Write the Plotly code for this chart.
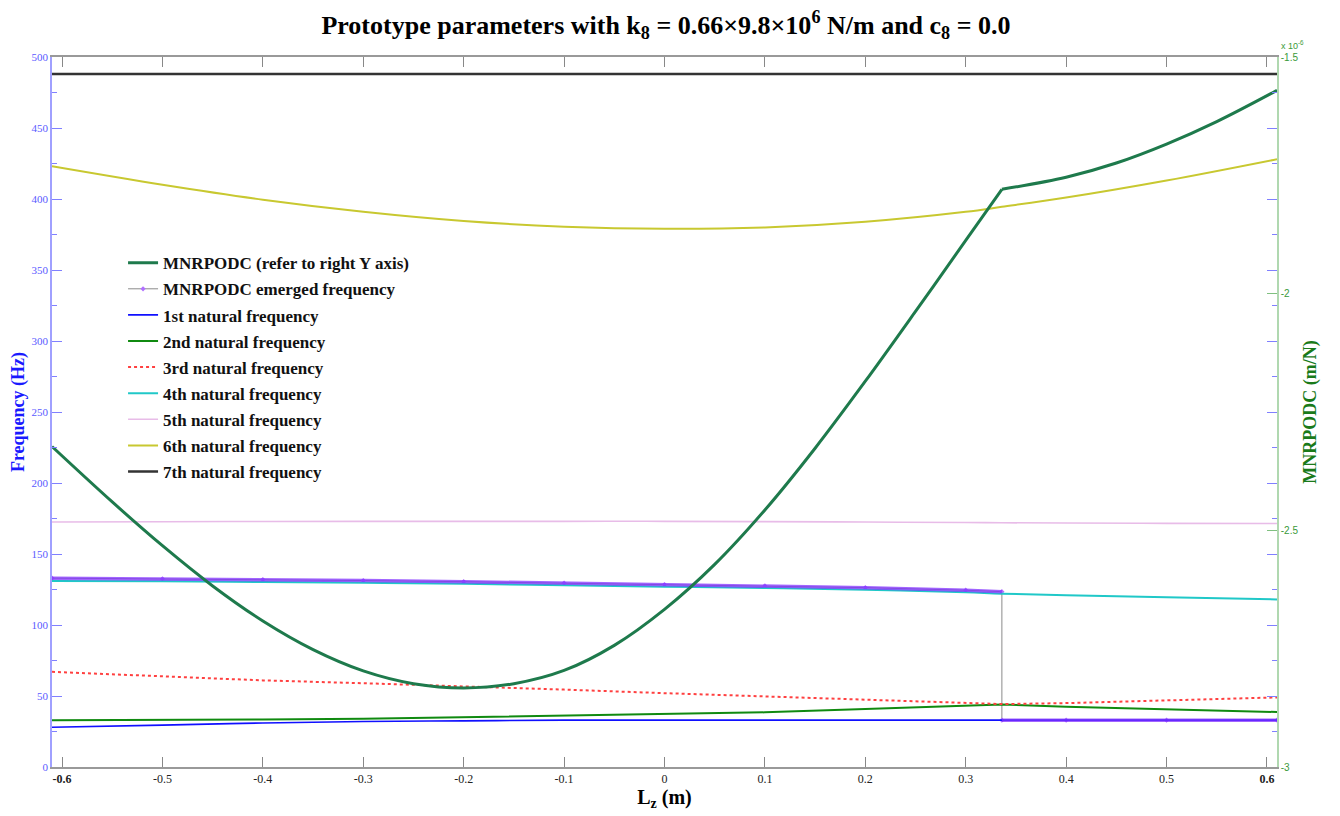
import plotly.graph_objects as go

# ---------------- data ----------------
lz_curve = [-0.61, -0.55, -0.50, -0.45, -0.40, -0.35, -0.30, -0.25, -0.20, -0.15, -0.10, -0.05,
            0.00, 0.05, 0.10, 0.15, 0.20, 0.25, 0.30, 0.336, 0.40, 0.45, 0.50, 0.55, 0.61]
mnrpodc_e6 = [-2.323, -2.440, -2.5325, -2.6175, -2.6915, -2.752, -2.797, -2.824, -2.833, -2.824, -2.796, -2.743,
              -2.667, -2.572, -2.457, -2.3265, -2.185, -2.0375, -1.8875, -1.7795, -1.754, -1.724, -1.684, -1.6365, -1.5705]

lz = [-0.61, -0.50, -0.40, -0.30, -0.20, -0.10, 0.00, 0.10, 0.20, 0.30, 0.336, 0.40, 0.50, 0.61]
f1 = [28.0, 29.5, 31.0, 32.0, 32.5, 33.0, 33.0, 33.0, 33.0, 33.0, 33.0, 33.0, 33.0, 33.0]
f2 = [33.0, 33.0, 33.5, 34.0, 35.0, 36.0, 37.0, 38.5, 40.8, 43.0, 44.0, 42.5, 40.5, 38.7]
f3 = [67.0, 64.0, 61.0, 59.0, 57.0, 54.5, 52.0, 49.8, 47.5, 45.2, 44.3, 45.0, 46.8, 49.0]
f4 = [131.0, 130.8, 130.3, 129.7, 129.0, 128.0, 127.0, 126.0, 124.8, 123.0, 122.0, 121.0, 119.5, 118.0]
f5 = [172.5, 172.7, 172.9, 173.0, 173.0, 173.0, 173.0, 172.8, 172.5, 172.2, 172.0, 171.8, 171.6, 171.5]
f6 = [423.0, 410.0, 399.5, 391.0, 384.5, 380.5, 379.0, 380.0, 384.0, 391.0, 394.5, 401.0, 413.0, 428.0]
f7 = [488.0] * 14

lz_emerged = [-0.61, -0.50, -0.40, -0.30, -0.20, -0.10, 0.00, 0.10, 0.20, 0.30, 0.336, 0.336, 0.40, 0.50, 0.61]
f_emerged = [133.0, 132.5, 132.0, 131.3, 130.5, 129.5, 128.5, 127.5, 126.3, 124.5, 123.5, 33.0, 33.0, 33.0, 33.0]

right_ticks = [-3.0, -2.5, -2.0, -1.5]
right_ticktext = ["-3", "-2.5", "-2", "-1.5"]
x_ticks = [-0.6, -0.5, -0.4, -0.3, -0.2, -0.1, 0.0, 0.1, 0.2, 0.3, 0.4, 0.5, 0.6]
x_ticktext = ["<b>-0.6</b>", "-0.5", "-0.4", "-0.3", "-0.2", "-0.1", "0", "0.1", "0.2", "0.3", "0.4", "0.5", "<b>0.6</b>"]

SERIF = "Liberation Serif, Times New Roman, serif"
KINK = lz_curve.index(0.336)

fig = go.Figure()

# MNRPODC curve: two smooth pieces sharing the kink point at Lz = 0.336
fig.add_trace(go.Scatter(x=lz_curve[:KINK + 1], y=mnrpodc_e6[:KINK + 1], yaxis="y2", mode="lines",
                         name="<b>MNRPODC (refer to right Y axis)</b>", legendgroup="g0",
                         line=dict(color="#1e7a4c", width=3, shape="spline", smoothing=1.0)))
fig.add_trace(go.Scatter(x=lz_curve[KINK:], y=mnrpodc_e6[KINK:], yaxis="y2", mode="lines",
                         showlegend=False, legendgroup="g0", hoverinfo="skip",
                         line=dict(color="#1e7a4c", width=3, shape="spline", smoothing=1.0)))

fig.add_trace(go.Scatter(x=lz_emerged, y=f_emerged, mode="lines+markers",
                         name="<b>MNRPODC emerged frequency</b>", legendgroup="g1",
                         line=dict(color="#8a8a8a", width=1),
                         marker=dict(symbol="diamond", size=4, color="#b070ff")))
names = ["1st natural frequency", "2nd natural frequency", "3rd natural frequency",
         "4th natural frequency", "5th natural frequency", "6th natural frequency",
         "7th natural frequency"]
series = [f1, f2, f3, f4, f5, f6, f7]
colors = ["#1010ff", "#108a10", "#ff4040", "#20c8c8", "#e8bce8", "#c8c830", "#333333"]
widths = [1.6, 2, 2, 2, 1.6, 2, 2.5]
dashes = ["solid", "solid", "dot", "solid", "solid", "solid", "solid"]
shapes = ["spline", "linear", "linear", "spline", "spline", "spline", "linear"]
for i, (nm, s, c, w, d, sh) in enumerate(zip(names, series, colors, widths, dashes, shapes)):
    fig.add_trace(go.Scatter(x=lz, y=s, mode="lines", name=f"<b>{nm}</b>", legendgroup=f"g{i+2}",
                             line=dict(color=c, width=w, dash=d, shape=sh)))

# dense marker band of emerged frequency (drawn over the natural frequency lines)
band_x = lz_emerged[:11] + [None] + lz_emerged[11:]
band_y = f_emerged[:11] + [None] + f_emerged[11:]
fig.add_trace(go.Scatter(x=band_x, y=band_y, mode="lines", showlegend=False, legendgroup="g1",
                         line=dict(color="rgba(130,50,255,0.75)", width=3.5), hoverinfo="skip"))

fig.update_layout(
    width=1340, height=816,
    margin=dict(l=52, r=63, t=57, b=49),
    paper_bgcolor="white", plot_bgcolor="white",
    font=dict(family=SERIF),
    title=dict(text="<b>Prototype parameters with k<sub>8</sub> = 0.66×9.8×10<sup>6</sup> N/m and c<sub>8</sub> = 0.0</b>",
               x=0.497, xanchor="center", y=0.970, yanchor="middle",
               font=dict(family=SERIF, size=26, color="black")),
    xaxis=dict(range=[-0.61, 0.61], tickvals=x_ticks, ticktext=x_ticktext,
               ticks="inside", ticklen=10, tickcolor="#888888", tickwidth=1,
               showline=True, linecolor="#999999", linewidth=1.5, mirror="ticks",
               showgrid=False, zeroline=False,
               tickfont=dict(family=SERIF, size=12, color="#222222"),
               title=dict(text="<b>L<sub>z</sub> (m)</b>", font=dict(family=SERIF, size=20, color="black"),
                          standoff=4)),
    yaxis=dict(range=[0, 500], dtick=50, ticks="inside", ticklen=10, tickcolor="#8080ff",
               showline=True, linecolor="#a0a0ff", linewidth=1.5, mirror="ticks",
               showgrid=False, zeroline=False,
               minor=dict(dtick=25, ticks="inside", ticklen=5, tickcolor="#8080ff", showgrid=False),
               tickfont=dict(family=SERIF, size=11, color="#5a5aff"),
               title=dict(text="<b>Frequency (Hz)</b>", font=dict(family=SERIF, size=18, color="#1a1aff"),
                          standoff=2)),
    yaxis2=dict(range=[-3, -1.5], overlaying="y", side="right", anchor="x",
                tickvals=right_ticks, ticktext=right_ticktext,
                ticks="inside", ticklen=10, tickcolor="#80c080",
                showline=True, linecolor="#b0d8b0", linewidth=1.5,
                showgrid=False, zeroline=False,
                tickfont=dict(family="Liberation Sans, Arial, sans-serif", size=10, color="#3a9a3a"),
                title=dict(text="<b>MNRPODC (m/N)</b>", font=dict(family=SERIF, size=18, color="#1a7a1a"),
                           standoff=6)),
    legend=dict(x=0.058, y=0.735, xanchor="left", yanchor="top",
                bgcolor="rgba(0,0,0,0)", borderwidth=0,
                font=dict(family=SERIF, size=17, color="#111111"),
                tracegroupgap=1, traceorder="grouped"),
    showlegend=True,
)

fig.add_annotation(text="x 10<sup>-6</sup>", xref="paper", yref="paper", x=1.0, y=1.0,
                   xanchor="left", yanchor="bottom", showarrow=False, yshift=4, xshift=2,
                   font=dict(family="Liberation Sans, Arial, sans-serif", size=9, color="#3a9a3a"))

fig.write_html("out.html")
